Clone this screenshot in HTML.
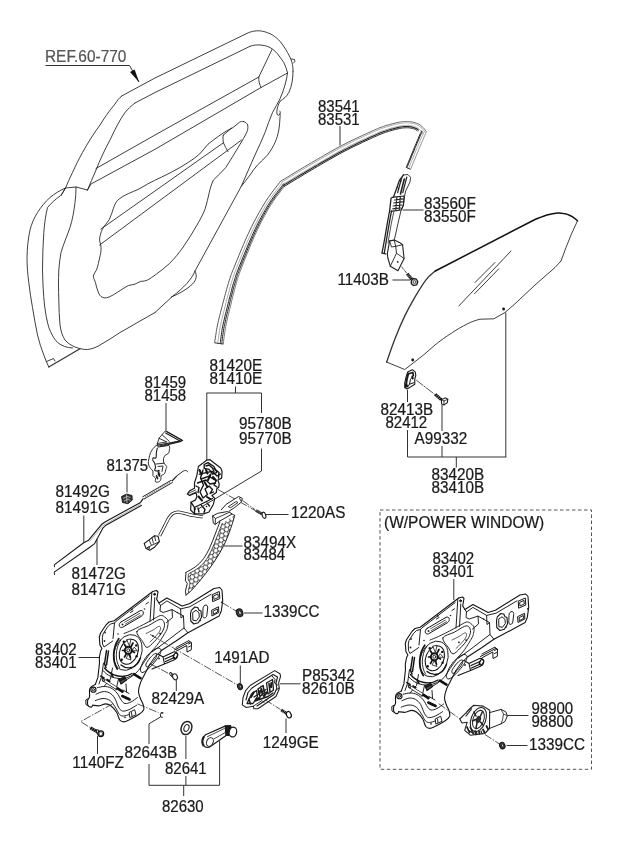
<!DOCTYPE html>
<html>
<head>
<meta charset="utf-8">
<title>Rear door window regulator and glass</title>
<style>
html,body{margin:0;padding:0;background:#fff;}
body{width:620px;height:848px;overflow:hidden;}
svg{display:block;filter:grayscale(1);}
text{font-family:"Liberation Sans",sans-serif;font-size:15.6px;fill:#1a1a1a;stroke:#1a1a1a;stroke-width:0.22px;}
.ln{fill:none;stroke:#2a2a2a;stroke-width:0.9;stroke-linecap:round;stroke-linejoin:round;}
.th{fill:none;stroke:#1c1c1c;stroke-width:0.85;stroke-linecap:round;stroke-linejoin:round;}
.ld{fill:none;stroke:#333;stroke-width:1;}
.dd{fill:none;stroke:#2a2a2a;stroke-width:0.8;stroke-dasharray:8 1.5 1.5 1.5;}
.bk{fill:none;stroke:#111;stroke-width:1.3;stroke-linecap:round;stroke-linejoin:round;}
</style>
</head>
<body>
<svg width="620" height="848" viewBox="0 0 620 848">
<rect x="0" y="0" width="620" height="848" fill="#ffffff"/>

<!-- ===== LABELS ===== -->
<g id="labels">
<text transform="translate(45.0 62.3) scale(0.9872 1)" style="fill:#555;stroke:#555">REF.60-770</text>
<text transform="translate(318.0 111.8) scale(0.9615 1)">83541</text>
<text transform="translate(318.0 124.8) scale(0.9615 1)">83531</text>
<text transform="translate(424.0 209.3) scale(0.9805 1)">83560F</text>
<text transform="translate(424.0 222.3) scale(0.9805 1)">83550F</text>
<text transform="translate(337.4 285.3) scale(0.9805 1)">11403B</text>
<text transform="translate(380.5 415.3) scale(0.9805 1)">82413B</text>
<text transform="translate(385.5 428.3) scale(0.9615 1)">82412</text>
<text transform="translate(414.5 444.3) scale(0.9805 1)">A99332</text>
<text transform="translate(431.5 479.8) scale(0.9805 1)">83420B</text>
<text transform="translate(431.5 493.3) scale(0.9805 1)">83410B</text>
<text transform="translate(384.0 527.8) scale(0.9959 1)">(W/POWER WINDOW)</text>
<text transform="translate(432.5 564.3) scale(0.9615 1)">83402</text>
<text transform="translate(432.5 576.8) scale(0.9615 1)">83401</text>
<text transform="translate(531.5 714.3) scale(0.9615 1)">98900</text>
<text transform="translate(531.5 727.3) scale(0.9615 1)">98800</text>
<text transform="translate(529.0 749.8) scale(0.9805 1)">1339CC</text>
<text transform="translate(209.5 370.8) scale(0.9805 1)">81420E</text>
<text transform="translate(209.5 383.8) scale(0.9805 1)">81410E</text>
<text transform="translate(144.5 388.3) scale(0.9615 1)">81459</text>
<text transform="translate(144.5 401.3) scale(0.9615 1)">81458</text>
<text transform="translate(239.0 429.3) scale(0.9805 1)">95780B</text>
<text transform="translate(239.0 444.3) scale(0.9805 1)">95770B</text>
<text transform="translate(106.5 470.8) scale(0.9615 1)">81375</text>
<text transform="translate(55.5 497.3) scale(0.9805 1)">81492G</text>
<text transform="translate(55.5 513.3) scale(0.9805 1)">81491G</text>
<text transform="translate(71.5 579.3) scale(0.9805 1)">81472G</text>
<text transform="translate(71.5 594.8) scale(0.9805 1)">81471G</text>
<text transform="translate(291.0 517.8) scale(0.9805 1)">1220AS</text>
<text transform="translate(243.5 547.8) scale(0.9805 1)">83494X</text>
<text transform="translate(243.5 559.8) scale(0.9615 1)">83484</text>
<text transform="translate(263.5 617.3) scale(0.9805 1)">1339CC</text>
<text transform="translate(35.0 654.8) scale(0.9615 1)">83402</text>
<text transform="translate(35.0 668.3) scale(0.9615 1)">83401</text>
<text transform="translate(214.3 662.8) scale(0.9805 1)">1491AD</text>
<text transform="translate(302.0 681.3) scale(0.9805 1)">P85342</text>
<text transform="translate(302.0 694.3) scale(0.9805 1)">82610B</text>
<text transform="translate(151.5 703.8) scale(0.9805 1)">82429A</text>
<text transform="translate(262.7 747.8) scale(0.9805 1)">1249GE</text>
<text transform="translate(72.3 768.3) scale(0.9805 1)">1140FZ</text>
<text transform="translate(124.5 758.3) scale(0.9805 1)">82643B</text>
<text transform="translate(165.0 774.3) scale(0.9615 1)">82641</text>
<text transform="translate(162.0 811.8) scale(0.9615 1)">82630</text>
</g>

<!-- ===== LEADER LINES ===== -->
<g id="leaders" class="ld">
<path d="M45.500 65.500 H129.500 L139 82" style="stroke:#333"/>
<path d="M340 126 V145.5"/>
<path d="M402.5 210 H423.5"/>
<path d="M392.5 280 H410"/>
<path d="M407.5 390 V402 M407.5 430 V457"/>
<path d="M442 405 V431 M442 446 V457"/>
<path d="M505.8 312.5 V457"/>
<path d="M407.5 457 H506.3"/>
<path d="M456.3 457 V467.5"/>
<path d="M453.8 579 V600"/>
<path d="M507.500 715.500 H528.500"/>
<path d="M506.500 745.500 H527.500"/>
<path d="M235.500 386.500 V393"/>
<path d="M206.500 393 H261.500"/>
<path d="M206.800 393 V460"/>
<path d="M261.500 393 V413 M261.500 448.500 V471"/>
<path d="M166 403 V431"/>
<path d="M127 473.5 V492.5"/>
<path d="M83.8 515.5 V542.5"/>
<path d="M97 539 V565"/>
<path d="M266 514.500 H288.500"/>
<path d="M224 546 H242.5"/>
<path d="M244 613 H262.500"/>
<path d="M78.5 657.5 H100"/>
<path d="M240.3 665.5 V683"/>
<path d="M280 683.8 H300.5"/>
<path d="M176.3 679.5 V691"/>
<path d="M286 718.5 V733"/>
<path d="M97.5 736 V754"/>
<path d="M160.5 717 L149 723.800 V744 M149 764 V785.300"/>
<path d="M185.900 736 V759 M185.900 776 V785.300"/>
<path d="M219.600 741 V785.300"/>
<path d="M149 785.300 H219.600"/>
<path d="M183.700 785.300 V796"/>
</g>
<path d="M139.300 82.600 L130 72.100 L134.600 69.500 Z" fill="#111"/>

<!-- dashed box -->
<rect x="380" y="510" width="211.5" height="259.3" fill="none" stroke="#555" stroke-width="1" stroke-dasharray="3.5 2.5"/>

<!-- ===== DRAWING ===== -->
<g id="drawing">


<!-- DOOR PANEL -->
<g id="door" class="th">
<path d="M122 95.8 L155 78 L248.8 32.5 C254 30.5 259 30.5 262.5 31.2 C266 32 270 33.5 272.5 35 C275.5 37 278 39 280 41.3 C283 45 285.5 49 287.5 52.5 C289.5 56 291 59 292 62.5 C292.7 65 293 68 293 71.3"/>
<path d="M291.3 59 L294.5 59.5 L295 61.5 L293.5 62.8"/>
<path d="M135 103 L155 92.5 L250 46.3 C253.5 45 257 44.8 260 45 C264 45.3 267 46 270 47.5 C273 49.2 275.5 51.5 277.5 53.8 C280 57 282 59.8 283.8 62.5 C285.3 65.5 286.5 69 287.5 72.5"/>
<path d="M122 95.8 C119 98 117 101 115 104 C109 111 104 118.5 100 125 C93 134.5 87.5 143.5 82.5 152.5 C78.5 159.5 75.5 166 72.5 172.5 C70 177.5 67.5 183 65.5 188 L61 195.5"/>
<path d="M135 103 C131 106 128 109 125 112.5 C119 121 114.5 130.5 110 140 C104.5 150 100 160 96 170 C93 177 90 184 87.5 190"/>
<path d="M96 168.5 L155 135 L258.8 77"/>
<path d="M272 49.5 L258.8 77 C258.5 80.5 259.5 84.5 261 87.5"/>
<path d="M87.5 190 L91 184 L155 149.3 L261 87.5 L287.5 73"/>
<path d="M61 195.5 L65.5 188 L76 187 L87.5 190"/>
<path d="M293 71.3 C293 75 292.7 79 292 82.5 C291.3 86 290.3 89.5 288.8 92.5 C287.8 94.5 286.5 96 285 97.5 C283.5 99 281.7 100 280 101.3 C278.5 104 277.5 107 277 110 C276.7 112 276.8 114 277.5 115 C278.3 115.8 279.5 115 280 113.8 C280.5 112.8 280.3 111.5 279.7 111 M280 113.8 C280.3 115 280.2 116.3 280 117.5 C279.8 121.5 279.5 126 278.8 130 C278 134.5 276.8 138.5 275 142.5 C273 147 270.5 151 267.5 155 C264.5 158.5 261 161.5 257.5 165 C254.8 168 252.3 171.5 250 175 C247 179 244 183 241.3 186.3"/>
<path d="M287.5 73 C287 77 286.2 81 285 85 C283.7 89.5 282 94.3 280 98.8 C277.7 103.5 275 108 272.5 112.5 C269.8 119 267.3 126 265 132.5 C262 140 258.5 147.5 255 155 C251 164 246 175.5 241.3 186.3 L195 271 C192 279 183.5 288 172.3 296.5 L155 312.5"/>
<path d="M195 271 C197.300 275.500 196.500 280 192.500 284 C187 289.500 179.500 293.500 171.300 297"/>
<path d="M155 312.5 C150 315.5 145 318.3 140 321 C133.5 325 126.5 328.8 120 332.5 C113.5 337 106.5 341.3 100 345 C96 347.5 92 349 87.5 349.5 C83 349.7 79 348.5 75 347 C71 345.3 67.5 343 65 340 C62 335.5 60.8 330.5 60 325 C59.2 317 59 308.5 58.8 300 C58.5 290 58.3 280 58.8 270 C59.2 264 60 258 61 252.500 C63.500 244 67 236 70 227.500 C72.500 219.500 74 211 75 202.500 C75.800 197.500 76 192 76 187"/>
<path d="M60 196 C55 199.500 51 203.500 47.500 207.500 C45.500 215.500 44.500 224 43.800 232.500 C43 245 42.500 257.500 42.500 270 C42.800 282 43.300 294 44.500 305 C45.500 313 46.800 320.500 48.800 327.500 C51 333.500 54 338.800 57.500 342.500 C62 346 67 347.800 72.500 348"/>
<path d="M65.500 188 C59.500 190.500 54.500 193.800 50 197.500 C45 202 41 207 37.500 212.500 C34 218 31.500 224 30 230 C28 239 27.200 248.500 27 257.500 C27 266 27.700 274.500 28.800 282.500 C29.800 291 31 299.500 32.500 307.500 C34 317 35.700 326 37.500 335 C39.200 342 41.300 348.800 43.800 355 C45.200 359 46.800 363 48.800 367"/>
<path d="M48.800 367 L80 348.800" style="stroke-width:1.2;stroke:#333"/>
<path d="M46.500 361.500 L53.500 358.500 L55 361"/>
<!-- armrest -->
<path d="M243.500 121.500 C245.500 122 247 123.300 247.700 125 C248.300 128 247.500 130.800 246.300 133.300 C244.500 136.800 242.700 140 240.800 143 C238 147.500 235.300 152 232.600 156.600 C230.300 160.500 228 164 225.700 167.600 C222 172 217.500 176 213.400 180 C211.500 184 210.300 188 209.300 192.300 C208 198 206.800 203.500 205.200 208.700 C203 214.500 200 220 197 225 C192.800 232.500 188 240 183.200 247 C179 253 174.500 258.500 169.500 263.500 C165.300 267.500 160.500 271 155.800 274.500 C153 276.500 150.500 278.500 147.600 280 C145.300 281 143 281.200 140.700 281.400 C138.500 282 137 283.300 135.200 284 C133 284.800 130.500 285 128.400 285.500 C124.500 287.500 121 290 117.400 292.300 C114 294.500 110.500 296.800 106.500 297.800 C103.500 298.300 101 297 99.600 295 C97.500 291 96.500 287 95.500 282.700 C94.800 280.500 93.500 278.500 93.300 275.900 C94 273.300 96 271.500 96.900 269 C98 265.500 98.800 261.800 99.600 258 C100.500 254.500 101.300 250.800 101 247 C100.800 244.300 99.500 241.800 99.600 238.900 C100 235.500 101 232.300 102.300 229.300 C104 225.800 107 223 109.200 219.700 C111 216.300 112 212.300 113.300 208.700 C114.300 205.800 115.500 202.800 117.400 200.500 C120.500 197.500 124.500 195.500 128.400 193.600 C131.500 192 135 191 138 189.500 C141.500 187.800 144.500 185.800 147.600 184 C152 181.500 156.800 179.500 161.300 177.200 C165 175.300 168.800 173.800 172.300 171.700 C178 168.800 183.500 165.500 188.700 162.100 C192.500 159.500 196.500 157 199.700 153.900 C202.800 150.800 205 147.300 207.900 144.300 C211.300 141.300 215.300 138.800 218.900 136 C221.500 134 224.300 132.300 227.100 130.600 C229 129.500 230.800 128.800 232.600 127.800 C235 126.300 237 124 239.400 122.300 C240.700 121.600 242 121.300 243.500 121.500 Z"/>
<path d="M101 229 L223.200 142.900"/>
<path d="M223.200 135.200 L232 127.800"/>
<path d="M99.600 245 L241.600 140"/>
<path d="M223.200 135.200 C222.800 138 223 140.500 223.500 143 C224.800 146 226.500 149 228 151.600"/>
</g>



<!-- GLASS -->
<g id="glass" class="th">
<path d="M435.3 271 C433.8 272.4 429.5 275.4 426.2 279.6 C422.9 283.8 419.1 290.1 415.5 296.1 C411.9 302.2 408.2 308.8 404.8 315.9 C401.4 323 397.9 331.3 394.9 339 C391.9 346.7 388 358.2 386.6 362.1" style="stroke-width:1.3;stroke:#333"/>
<path d="M435.3 271 L535 219.5 C537 218.8 543.2 216.1 547 215 C550.8 213.9 554.5 213.2 557.5 213 C560.5 212.8 562.9 213.4 565 213.8 C567.1 214.2 568.5 214.8 570 215.5 C571.5 216.2 572.8 216.9 574 217.8 C575.2 218.7 576.9 220.3 577.5 220.8" style="stroke-width:1.5;stroke:#111"/>
<path d="M577.5 220.8 L571 235 L566 247.5 L561 261 L555 267.5 L535 285 L515 303.8 L505 312.5 L493.8 318.8 L480 319.2 C475 320.5 471 322 467.5 323.8 C462 326.5 457 329.5 452.5 332.5 C446 336.5 440 341 435 345 C431 348.5 427 352 422.9 355.5 L404.8 369.5 L386.6 362.1"/>
<path d="M511 251 L458.8 306"/>
<path d="M495 262.5 L475 282.5"/>
<path d="M498.8 268.8 L474.5 293.8"/>
<circle cx="503.600" cy="309" r="1.400" fill="#111" stroke="none"/>
<circle cx="412.700" cy="360" r="1.400" fill="#111" stroke="none"/>
</g>


<!-- GUIDE 83560F -->
<g id="guide" class="th" style="stroke:#222">
<path d="M403.400 175 L408 174.500 L410.600 177.300 L410 181.900 L405.700 191 L404.100 198 L403.400 204.900 L401.100 210.200 L398 223.300 L395.700 234 L394.200 240.500" style="stroke-width:0.9"/>
<path d="M403.400 175 L399.500 180.300 L395.700 191 L393.400 197.200 L391.100 198 L390.300 204.900 L389.600 211 L387.300 223.300 L385 237 L382.700 249.300 L381.900 253.200 L385.700 253.900" style="stroke-width:1.3"/>
<path d="M391.500 211 L389.200 223.500 L386.600 239 L384.300 253" style="stroke-width:1.3"/>
<path d="M393.800 212 L391.200 224 L388.800 238 L388 243" style="stroke-width:0.8"/>
<path d="M401.800 177.500 L397.600 192.600 M406.800 177 L402.800 192.600" style="stroke-width:1.2"/>
<path d="M404.300 179 L400.500 194" style="stroke-width:1.6"/>
<path d="M399.500 180.300 L401.500 181 M397 187.500 L399 188.500" style="stroke-width:0.8"/>
<path d="M393.400 197.200 L404.300 196 L403.400 205.500 L401.100 210 L391 211.300" style="stroke-width:1.2"/>
<path d="M394.500 200 L403 198.800 M393.800 203 L402.700 201.800 M393.200 206 L402 205 M392.800 208.800 L400.500 208 M396.800 197.500 L395.800 210 M400.300 197 L399.300 209.500" style="stroke-width:1.2"/>
<path d="M389.600 240.900 L394.200 240.100 L399.500 242.400 L402.600 244.700 L403.400 252.400 L404.100 258.500 L398 270.800 L390.300 266.200 L388 258.500 L387.300 253.900 Z" style="stroke-width:1.1"/>
<path d="M394.200 240.100 L395.700 246.300 L402.600 244.700 M395.700 246.300 L396.500 253.200 L390.300 266.200 M396.500 253.200 L404.100 258.500 M389.600 240.900 L391.500 247 L395.700 246.300" style="stroke-width:0.9"/>
<circle cx="397.700" cy="261.900" r="0.900" fill="#222" stroke="none"/>
<path d="M401.800 267 L407 273.500" class="dd" style="stroke-dasharray:3 1.500"/>
</g>
<!-- bolt 11403B -->
<g id="bolt1">
<path d="M407.2 273.8 L411.8 279.2" stroke="#111" stroke-width="3.2" fill="none"/><path d="M406.9 275.9 L409.8 274.4 M408.0 277.2 L411.0 275.8 M409.2 278.6 L412.1 277.1" stroke="#fff" stroke-width="0.45" fill="none"/>
<path d="M411.300 280.800 L413 278.500 L416.200 279 L417.800 281.500 L416.800 284.800 L413.500 285.600 L411.300 283.800 Z" fill="#ddd" stroke="#1a1a1a" stroke-width="1.300"/>
<circle cx="414.500" cy="282" r="1.400" fill="#fff" stroke="#222" stroke-width="0.800"/>
</g>
<!-- clip 82413B + bolt -->
<g id="clip1" class="th">
<path d="M407.600 372.100 L412.400 369.700 L415.300 372.100 L415.800 375.500 L414.800 378.900 L414.800 384.200 L409.500 387.600 L407.100 389 L404.700 387.600 L404.700 383.200 L406.100 376.900 Z" style="stroke-width:1.100;stroke:#1a1a1a"/>
<path d="M408.300 373.500 L406.800 379.500 L405.800 386.800" style="stroke-width:2;stroke:#1a1a1a"/>
<path d="M409.500 373.600 L412.900 372.600 L413.400 375.500" style="stroke-width:1.600;stroke:#1a1a1a"/>
<path d="M413.400 375.500 L410.500 379.400 L409.500 384.200 L413.900 382.700 M409.500 384.200 L407.500 387" style="stroke-width:1;stroke:#1a1a1a"/>
<path d="M412.300 376.300 L412.800 378.500 M406.300 384.500 L407.300 386.200" style="stroke-width:1.800;stroke:#111"/>
<path d="M416.500 380.300 L434.500 394.200" class="dd"/>
</g>
<g id="bolt2">
<path d="M435.2 394.4 L441.3 399.6" stroke="#111" stroke-width="3.2" fill="none"/><path d="M435.4 396.7 L438.1 394.7 M436.9 398.0 L439.6 396.0 M438.4 399.3 L441.1 397.3" stroke="#fff" stroke-width="0.45" fill="none"/>
<path d="M441.500 399.700 L445.300 397.800 L447.800 399.200 L447.300 402.600 L443.900 405 L441.500 404 Z" fill="#fff" stroke="#222" stroke-width="1.100"/>
<path d="M441.500 399.700 L444 401 L447.800 399.200 M444 401 L443.900 405" class="th"/>
</g>


<!-- WEATHERSTRIP -->
<g id="strip" fill="none" stroke-linecap="butt" stroke-linejoin="round">
<path d="M214.6 342.8 L214.8 341.8 L214.9 340.5 L215.2 339 L215.4 337.3 L215.7 335.5 L216 333.5 L216.3 331.4 L216.7 329.3 L217.1 327.2 L217.5 325 L218 322.8 L218.5 320.4 L219.1 317.9 L219.8 315.3 L220.5 312.6 L221.1 310 L221.8 307.4 L222.5 304.8 L223.1 302.3 L223.8 300 L224.3 297.8 L224.9 295.6 L225.5 293.5 L226.1 291.4 L226.6 289.4 L227.2 287.4 L227.7 285.5 L228.3 283.6 L228.8 281.8 L229.4 280 L229.9 278.4 L230.4 277 L230.8 275.8 L231.2 274.6 L231.6 273.4 L232.1 272.2 L232.6 270.8 L233.3 269.2 L234.1 267.3 L235 265 L236.1 262.3 L237.4 259.2 L238.8 255.7 L240.3 252.1 L241.9 248.3 L243.5 244.4 L245.2 240.6 L246.8 236.8 L248.5 233.3 L250 230 L251.5 226.9 L253 223.9 L254.5 221 L256 218.2 L257.5 215.4 L259 212.7 L260.5 210.1 L262 207.5 L263.5 205 L265 202.5 L266.6 200 L268.3 197.5 L270.1 195 L271.9 192.5 L273.7 190.1 L275.5 187.9 L277 185.8 L278.5 184 L279.7 182.4 L280.6 181.2" stroke="#444" stroke-width="0.9"/>
<path d="M217.7 343.3 L217.9 342.2 L218 340.9 L218.2 339.4 L218.5 337.7 L218.7 335.9 L219 334 L219.3 331.9 L219.7 329.8 L220 327.7 L220.4 325.6 L220.9 323.4 L221.4 321.1 L222 318.6 L222.7 316 L223.3 313.4 L224 310.7 L224.6 308.1 L225.3 305.5 L225.9 303.1 L226.5 300.7 L227.1 298.5 L227.7 296.3 L228.2 294.2 L228.8 292.1 L229.3 290.1 L229.8 288.2 L230.4 286.2 L230.9 284.4 L231.4 282.6 L232 280.8 L232.5 279.2 L232.9 277.8 L233.3 276.6 L233.7 275.5 L234.1 274.4 L234.5 273.1 L235 271.8 L235.7 270.2 L236.4 268.3 L237.4 266 L238.5 263.2 L239.7 260.1 L241.1 256.7 L242.6 253 L244.2 249.2 L245.8 245.4 L247.4 241.6 L249.1 237.8 L250.7 234.3 L252.2 231 L253.6 228 L255.1 225 L256.6 222.1 L258 219.3 L259.5 216.5 L261 213.8 L262.4 211.2 L263.9 208.6 L265.4 206.1 L266.9 203.7 L268.5 201.3 L270.2 198.8 L271.9 196.3 L273.7 193.8 L275.5 191.5 L277.2 189.2 L278.8 187.2 L280.2 185.4 L281.4 183.8 L282.4 182.5" stroke="#888" stroke-width="0.7"/>
<path d="M220.2 343.7 L220.3 342.6 L220.5 341.3 L220.6 339.8 L220.9 338.1 L221.1 336.3 L221.4 334.3 L221.7 332.3 L222 330.3 L222.3 328.2 L222.7 326.1 L223.2 323.9 L223.7 321.6 L224.3 319.1 L224.9 316.5 L225.5 313.9 L226.2 311.3 L226.8 308.7 L227.5 306.1 L228.1 303.6 L228.7 301.3 L229.2 299.1 L229.8 296.9 L230.3 294.8 L230.9 292.7 L231.4 290.7 L231.9 288.7 L232.4 286.8 L232.9 285 L233.5 283.2 L234 281.5 L234.5 279.9 L234.9 278.5 L235.3 277.3 L235.6 276.2 L236 275.1 L236.4 273.9 L236.9 272.5 L237.5 270.9 L238.3 269 L239.2 266.7 L240.3 264 L241.5 260.9 L242.9 257.4 L244.4 253.8 L246 250 L247.6 246.1 L249.2 242.3 L250.8 238.6 L252.4 235.1 L253.8 231.8 L255.3 228.8 L256.7 225.8 L258.2 222.9 L259.6 220.1 L261.1 217.4 L262.5 214.7 L264 212.1 L265.4 209.5 L266.9 207.1 L268.4 204.6 L269.9 202.2 L271.6 199.8 L273.3 197.3 L275.1 194.9 L276.9 192.5 L278.6 190.3 L280.2 188.3 L281.6 186.4 L282.8 184.8 L283.8 183.6" stroke="#222" stroke-width="1.0"/>
<path d="M221.7 343.9 L221.9 342.8 L222 341.5 L222.2 340 L222.4 338.3 L222.6 336.5 L222.9 334.6 L223.2 332.6 L223.5 330.5 L223.8 328.5 L224.2 326.4 L224.7 324.3 L225.2 321.9 L225.7 319.5 L226.3 316.9 L226.9 314.3 L227.6 311.6 L228.2 309 L228.9 306.5 L229.5 304 L230 301.7 L230.6 299.4 L231.1 297.3 L231.7 295.1 L232.2 293.1 L232.7 291.1 L233.2 289.1 L233.7 287.2 L234.3 285.4 L234.8 283.6 L235.3 281.9 L235.8 280.3 L236.2 278.9 L236.5 277.7 L236.9 276.6 L237.2 275.5 L237.6 274.3 L238.1 273 L238.7 271.4 L239.5 269.5 L240.4 267.2 L241.5 264.5 L242.7 261.3 L244.1 257.9 L245.6 254.3 L247.1 250.5 L248.7 246.6 L250.3 242.8 L251.9 239.1 L253.5 235.6 L254.9 232.4 L256.4 229.3 L257.8 226.4 L259.2 223.5 L260.7 220.7 L262.1 217.9 L263.5 215.3 L265 212.7 L266.4 210.1 L267.9 207.6 L269.3 205.2 L270.8 202.8 L272.5 200.4 L274.2 198 L276 195.5 L277.8 193.2 L279.5 191 L281.1 188.9 L282.5 187.1 L283.7 185.5 L284.7 184.3" stroke="#222" stroke-width="1.0"/>
<path d="M223.3 344.1 L223.4 343.1 L223.6 341.7 L223.7 340.2 L223.9 338.5 L224.2 336.7 L224.4 334.8 L224.7 332.8 L225 330.8 L225.3 328.8 L225.7 326.7 L226.1 324.6 L226.6 322.3 L227.2 319.8 L227.7 317.3 L228.4 314.6 L229 312 L229.6 309.4 L230.3 306.8 L230.9 304.4 L231.4 302 L232 299.8 L232.5 297.6 L233 295.5 L233.6 293.5 L234.1 291.5 L234.6 289.5 L235.1 287.6 L235.6 285.8 L236.1 284 L236.6 282.3 L237 280.7 L237.4 279.3 L237.8 278.2 L238.1 277.1 L238.5 276 L238.9 274.8 L239.3 273.5 L239.9 271.9 L240.7 270 L241.6 267.7 L242.6 265 L243.9 261.8 L245.2 258.4 L246.7 254.7 L248.3 251 L249.8 247.1 L251.4 243.3 L253 239.6 L254.5 236.1 L256 232.9 L257.4 229.8 L258.9 226.9 L260.3 224 L261.7 221.2 L263.1 218.5 L264.5 215.8 L266 213.2 L267.4 210.7 L268.8 208.2 L270.3 205.8 L271.8 203.5 L273.4 201.1 L275.1 198.6 L276.9 196.2 L278.7 193.9 L280.4 191.7 L281.9 189.6 L283.4 187.8 L284.6 186.2 L285.6 184.9" stroke="#555" stroke-width="0.8"/>
<path d="M214.6 342.8 L223.3 344.1" stroke="#333" stroke-width="1"/>
<path d="M280.6 181.2 L282.4 180.1 L284.8 178.7 L287.6 177 L290.7 175.1 L294 173.1 L297.5 171 L301.1 168.8 L304.7 166.7 L308.1 164.7 L311.3 162.8 L314.4 161 L317.5 159.2 L320.6 157.4 L323.7 155.6 L326.8 153.8 L329.9 152 L333 150.3 L336 148.6 L339 147 L342 145.4 L345 143.9 L348 142.3 L351.1 140.8 L354.1 139.4 L357.1 138 L360 136.6 L362.8 135.3 L365.4 134.1 L367.8 133 L370 132 L371.9 131.1 L373.6 130.4 L375.1 129.7 L376.4 129.1 L377.6 128.6 L378.7 128.2 L379.8 127.7 L381 127.3 L382.2 126.9 L383.5 126.4 L384.9 125.9 L386.4 125.4 L388 125 L389.5 124.5 L391.1 124.1 L392.6 123.7 L394.1 123.3 L395.5 123 L396.9 122.7 L398.2 122.4 L399.4 122.2 L400.5 122 L401.6 121.8 L402.7 121.7 L403.7 121.6 L404.6 121.5 L405.6 121.5 L406.5 121.4 L407.4 121.5 L408.4 121.5 L409.4 121.6 L410.3 121.7 L411.3 121.8 L412.2 122 L413.2 122.2 L414.1 122.4 L415 122.7 L415.8 122.9 L416.6 123.2 L417.4 123.5 L418.1 123.8 L418.8 124.2 L419.4 124.5 L420 124.9 L420.5 125.3 L421.1 125.8 L421.6 126.2 L422.1 126.6 L422.5 127.1 L423 127.5 L423.5 128 L423.9 128.4 L424.3 129 L424.7 129.5 L425.1 130 L425.5 130.5 L425.8 131 L426.1 131.4 L426.3 131.7 L426.5 132" stroke="#555" stroke-width="0.9"/>
<path d="M281.3 182.4 L283.1 181.3 L285.5 179.9 L288.3 178.2 L291.4 176.3 L294.7 174.3 L298.3 172.2 L301.8 170 L305.4 167.9 L308.8 165.9 L312 164 L315.1 162.2 L318.2 160.4 L321.3 158.6 L324.4 156.8 L327.5 155 L330.6 153.2 L333.7 151.5 L336.7 149.8 L339.7 148.2 L342.6 146.6 L345.6 145.1 L348.6 143.6 L351.7 142.1 L354.7 140.6 L357.7 139.2 L360.6 137.9 L363.3 136.6 L365.9 135.4 L368.4 134.3 L370.6 133.3 L372.5 132.4 L374.2 131.6 L375.6 131 L376.9 130.4 L378.1 129.9 L379.2 129.4 L380.3 129 L381.4 128.6 L382.6 128.2 L383.9 127.7 L385.4 127.2 L386.8 126.8 L388.4 126.3 L389.9 125.9 L391.4 125.4 L392.9 125 L394.4 124.7 L395.8 124.3 L397.2 124 L398.5 123.8 L399.7 123.5 L400.8 123.3 L401.8 123.2 L402.8 123.1 L403.8 123 L404.7 122.9 L405.6 122.8 L406.5 122.8 L407.4 122.8 L408.3 122.9 L409.2 123 L410.2 123.1 L411.1 123.2 L412 123.4 L412.9 123.5 L413.8 123.8 L414.6 124 L415.4 124.2 L416.2 124.5 L416.9 124.8 L417.5 125.1 L418.1 125.4 L418.7 125.7 L419.2 126.1 L419.7 126.4 L420.2 126.8 L420.7 127.2 L421.1 127.7 L421.6 128.1 L422 128.5 L422.4 128.9 L422.8 129.3 L423.2 129.8 L423.6 130.3 L424 130.8 L424.3 131.3 L424.6 131.8 L424.9 132.2 L425.2 132.5 L425.4 132.8" stroke="#888" stroke-width="0.7"/>
<path d="M282.6 184.5 L284.4 183.4 L286.8 182 L289.6 180.3 L292.7 178.5 L296 176.4 L299.6 174.3 L303.1 172.2 L306.7 170.1 L310.1 168 L313.3 166.2 L316.4 164.4 L319.5 162.6 L322.6 160.8 L325.7 159 L328.8 157.2 L331.8 155.4 L334.9 153.7 L337.9 152 L340.9 150.4 L343.8 148.9 L346.7 147.3 L349.7 145.8 L352.8 144.4 L355.8 142.9 L358.7 141.5 L361.6 140.1 L364.4 138.9 L367 137.7 L369.4 136.6 L371.6 135.6 L373.6 134.7 L375.2 133.9 L376.7 133.3 L377.9 132.7 L379.1 132.2 L380.2 131.8 L381.2 131.4 L382.3 131 L383.5 130.5 L384.8 130.1 L386.1 129.6 L387.6 129.2 L389.1 128.7 L390.6 128.3 L392.1 127.9 L393.6 127.5 L395 127.1 L396.4 126.8 L397.7 126.5 L399 126.2 L400.1 126 L401.2 125.8 L402.2 125.7 L403.1 125.6 L404 125.5 L404.9 125.4 L405.7 125.4 L406.5 125.4 L407.3 125.4 L408.2 125.4 L409 125.5 L409.8 125.6 L410.7 125.7 L411.5 125.8 L412.3 126 L413.1 126.2 L413.9 126.4 L414.6 126.6 L415.3 126.9 L415.9 127.1 L416.4 127.3 L416.9 127.6 L417.3 127.8 L417.7 128.1 L418.2 128.4 L418.6 128.8 L419 129.1 L419.4 129.5 L419.9 129.9 L420.3 130.3 L420.6 130.6 L420.9 131 L421.3 131.4 L421.6 131.8 L421.9 132.3 L422.2 132.7 L422.6 133.2 L422.8 133.6 L423.1 134 L423.4 134.3" stroke="#777" stroke-width="0.6"/>
<path d="M283.2 185.5 L285 184.4 L287.4 183 L290.2 181.3 L293.3 179.4 L296.6 177.4 L300.1 175.3 L303.7 173.2 L307.2 171 L310.7 169 L313.8 167.1 L316.9 165.4 L320 163.5 L323.1 161.7 L326.2 159.9 L329.3 158.2 L332.4 156.4 L335.4 154.7 L338.5 153 L341.4 151.4 L344.3 149.9 L347.3 148.4 L350.2 146.9 L353.3 145.4 L356.3 143.9 L359.2 142.5 L362.1 141.2 L364.9 139.9 L367.5 138.7 L369.9 137.6 L372.1 136.6 L374 135.7 L375.7 134.9 L377.1 134.3 L378.4 133.7 L379.5 133.3 L380.6 132.8 L381.6 132.4 L382.7 132 L383.8 131.6 L385.1 131.2 L386.5 130.7 L387.9 130.3 L389.4 129.8 L390.9 129.4 L392.4 129 L393.9 128.6 L395.3 128.2 L396.7 127.9 L398 127.6 L399.2 127.3 L400.3 127.1 L401.4 127 L402.3 126.8 L403.2 126.7 L404.1 126.6 L404.9 126.5 L405.7 126.5 L406.5 126.5 L407.3 126.5 L408.1 126.5 L408.9 126.6 L409.7 126.7 L410.5 126.8 L411.3 126.9 L412.1 127.1 L412.8 127.3 L413.6 127.5 L414.3 127.7 L414.9 127.9 L415.5 128.2 L415.9 128.4 L416.3 128.6 L416.7 128.8 L417.1 129.1 L417.5 129.3 L417.9 129.7 L418.3 130 L418.7 130.4" stroke="#222" stroke-width="1.1"/>
<path d="M283.8 186.6 L285.7 185.5 L288 184.1 L290.8 182.4 L293.9 180.5 L297.3 178.5 L300.8 176.4 L304.4 174.2 L307.9 172.1 L311.3 170.1 L314.5 168.2 L317.6 166.4 L320.7 164.6 L323.8 162.8 L326.9 161 L329.9 159.3 L333 157.5 L336.1 155.8 L339.1 154.1 L342 152.5 L344.9 151 L347.8 149.5 L350.8 148 L353.8 146.5 L356.8 145.1 L359.8 143.7 L362.6 142.3 L365.4 141 L368 139.8 L370.4 138.7 L372.6 137.7 L374.5 136.8 L376.2 136.1 L377.6 135.5 L378.9 134.9 L380 134.4 L381.1 134 L382.1 133.6 L383.1 133.2 L384.3 132.8 L385.5 132.4 L386.9 131.9 L388.3 131.5 L389.8 131 L391.2 130.6 L392.7 130.2 L394.2 129.8 L395.6 129.4 L397 129.1 L398.2 128.8 L399.4 128.6 L400.5 128.4 L401.6 128.2 L402.5 128 L403.4 127.9 L404.2 127.9 L405 127.8 L405.8 127.8 L406.5 127.7 L407.3 127.8 L408 127.8 L408.8 127.8 L409.5 127.9 L410.3 128 L411 128.2 L411.8 128.3 L412.5 128.5 L413.2 128.7 L413.9 128.9 L414.5 129.1 L415 129.3 L415.4 129.5 L415.7 129.7 L416 129.9 L416.4 130.1 L416.7 130.3 L417.1 130.6 L417.4 130.9 L417.8 131.3" stroke="#222" stroke-width="1.0"/>
<path d="M426.5 132 L426.4 132.3 L426.2 132.6 L426 133 L425.7 133.5 L425.3 134.3 L424.8 135.4 L424.1 136.9 L423.4 138.7 L422.5 140.8 L421.5 143 L420.6 145.2 L419.7 147.3 L418.8 149.4 L418 151.5 L417.1 153.6 L416.2 155.8 L415.4 157.8 L414.6 159.7 L413.8 161.6 L413 163.5 L412.3 165.3 L411.6 166.9 L411 168.3 L410.6 169.3" stroke="#777" stroke-width="0.8"/>
<path d="M424 131.9 L423.7 132.5 L423.3 133.4 L422.8 134.5 L422.1 136 L421.3 137.8 L420.4 139.9 L419.5 142.1 L418.6 144.3 L417.7 146.4 L416.8 148.5 L415.9 150.7 L415 152.8 L414.2 154.9 L413.4 157 L412.6 158.9 L411.8 160.7 L411 162.6 L410.3 164.4 L409.6 166.1 L409 167.4 L408.6 168.5" stroke="#888" stroke-width="0.7"/>
<path d="M422.4 131.1 L422.1 131.7 L421.7 132.6 L421.1 133.8 L420.5 135.3 L419.7 137.1 L418.8 139.2 L417.8 141.4 L416.9 143.6 L416 145.8 L415.1 147.8 L414.3 150 L413.4 152.1 L412.5 154.2 L411.7 156.3 L410.9 158.2 L410.1 160 L409.3 161.9 L408.6 163.7 L407.9 165.4 L407.3 166.7 L406.9 167.8" stroke="#222" stroke-width="1.0"/>
<path d="M421.7 130.7 L421.4 131.4 L421 132.3 L420.4 133.4 L419.7 135 L418.9 136.8 L418.1 138.9 L417.1 141.1 L416.2 143.3 L415.3 145.4 L414.4 147.5 L413.5 149.7 L412.6 151.8 L411.8 153.9 L410.9 156 L410.2 157.9 L409.4 159.7 L408.6 161.6 L407.9 163.4 L407.2 165.1 L406.6 166.4 L406.2 167.5" stroke="#222" stroke-width="1.0"/>
<path d="M410.6 169.3 L406.2 167.5" stroke="#333" stroke-width="1"/>
</g>
<!-- 81459 bracket -->
<g id="b81459" class="th" style="stroke-width:0.9;stroke:#1c1c1c">
<path d="M165.600 431.200 L182.600 440.500 L157.700 446.300 L157.300 443.600 L159.100 438.300 Z"/>
<path d="M166.800 431.600 L182.600 440.500 M165.600 433 L180.500 441.200 M182.600 440.500 L158 445 M181 441.500 L160.500 446.500" style="stroke-width:1.1"/>
<path d="M159.100 438.300 L166.600 441.900 M162.200 434.800 L169.300 441.400 M157.300 443.600 L166.600 441.900"/>
<path d="M157.3 445 C156.8 445.4 155.3 445.9 154.2 447.2 C153.1 448.4 151.5 450.6 150.6 452.5 C149.7 454.4 149.3 456.8 148.9 458.7 C148.5 460.6 148.1 462.4 148.4 464 C148.7 465.6 149.8 467.3 150.6 468.5 C151.3 469.7 152.5 469.9 152.9 471.1 C153.3 472.3 152.5 474.4 152.9 475.6 C153.3 476.8 155.1 477.2 155.5 478.2 C155.9 479.2 154.9 481.2 155.5 481.8 C156.1 482.4 158.2 482.2 159.1 481.8 C160 481.4 160.5 480.1 160.9 479.1 C161.3 478.1 160.7 476.5 161.3 475.6 C161.9 474.7 163.6 475 164.4 473.8 C165.2 472.6 165.8 469.8 166.2 468.5 C166.6 467.2 167 467.2 166.6 466.3 C166.2 465.4 164.5 464.5 164 463.2 C163.5 461.9 163.3 460 163.5 458.7 C163.7 457.4 164.5 456.1 165.3 455.2 C166.1 454.3 167.7 454.5 168.4 453.4 C169.1 452.3 169.5 449.8 169.7 448.5 C169.8 447.2 169.4 446.3 169.3 445.9"/>
<path d="M157.3 448.1 C157.2 448.8 156.6 450.9 156.4 452.5 C156.2 454.1 156.5 456.9 156 457.8 C155.5 458.7 153.8 457.4 153.3 457.8 C152.8 458.2 152.7 459.6 152.9 460.5 C153.1 461.4 154.2 462 154.6 463.2 C155 464.4 155.5 466.4 155.5 467.6 C155.5 468.8 154.3 469.7 154.6 470.3 C154.9 470.9 156.6 471.1 157.3 471.1 C158.1 471.1 158.9 469.7 159.1 470.3 C159.2 470.9 158 474.1 158.2 474.7 C158.3 475.3 159.7 473.9 160 473.8" style="stroke-width:1.1"/>
<path d="M156 464 L164 463.200 M158 466.500 L163 466 L162 471.500 M158.500 447 L168.500 445.500"/>
<path d="M158.500 472.500 L159.500 476 M156.500 476 L157.500 478.500" style="stroke-width:1.8"/>
</g>
<!-- clip 81375 -->
<g id="c81375">
<path d="M121.500 496.500 L126.500 494 L132 495.500 L132.300 500 L128 503.800 L122.500 502.500 Z" fill="#333" stroke="#111" stroke-width="0.8"/>
<path d="M123 498.500 L127 496.500 L130.500 497.500 M124 501 L128 499 L130.500 500.500 M126.500 494.500 L127 503" stroke="#ddd" stroke-width="0.7" fill="none"/>
</g>
<!-- rods -->
<g id="rods">
<path d="M54.2 564.9 L83.7 542.8 L88.6 540.2 L101.9 524.2 L104.5 522.3 L140.6 502.4 L144.2 497.2 L172 481 L176.9 475.8" fill="none" stroke="#1a1a1a" stroke-width="1.15" stroke-linejoin="round"/>
<path d="M54.2 572.1 L89.8 547.2 L94.6 543.6 L103.1 527.8 L105.5 525.6 L141.8 505.2" fill="none" stroke="#1a1a1a" stroke-width="1.1" stroke-linejoin="round"/>
<path d="M89.5 541.5 L102.8 525.6 L141 504" fill="none" stroke="#666" stroke-width="0.5"/>
<path d="M143.2 498 L172 481.2" fill="none" stroke="#222" stroke-width="3.4" stroke-linecap="butt" stroke-linejoin="round"/><path d="M143.2 498 L172 481.2" fill="none" stroke="#fff" stroke-width="1.6" stroke-linecap="butt" stroke-linejoin="round"/>
<path d="M145 497 L170.500 482" fill="none" stroke="#333" stroke-width="0.700" stroke-dasharray="1.500 1"/>
<path d="M176.900 475.800 L181 472.800 C182.500 471.500 184 470.500 185.500 470.500 C186.800 470.500 187.500 471.300 187.800 472.200" fill="none" stroke="#222" stroke-width="1"/>
<path d="M54.200 564.900 L54.600 567.200 M54.200 572.100 L54.600 575" stroke="#222" stroke-width="1" fill="none"/>
</g>
<!-- connector wire -->
<g id="wire">
<path d="M202.9 516.9 C201.2 516.6 195.5 515.9 192.6 515.4 C189.7 514.9 187.8 514.1 185.4 513.6 C183 513.1 180.2 512.1 178.1 512.1 C176 512.1 174.3 512.6 172.7 513.6 C171.1 514.6 170.1 516.1 168.7 518.2 C167.3 520.3 166 523.4 164.5 526.3 C163 529.2 160.4 534.1 159.6 535.7" fill="none" stroke="#222" stroke-width="3.3" stroke-linecap="butt" stroke-linejoin="round"/><path d="M202.9 516.9 C201.2 516.6 195.5 515.9 192.6 515.4 C189.7 514.9 187.8 514.1 185.4 513.6 C183 513.1 180.2 512.1 178.1 512.1 C176 512.1 174.3 512.6 172.7 513.6 C171.1 514.6 170.1 516.1 168.7 518.2 C167.3 520.3 166 523.4 164.5 526.3 C163 529.2 160.4 534.1 159.6 535.7" fill="none" stroke="#fff" stroke-width="1.7" stroke-linecap="butt" stroke-linejoin="round"/>
<path d="M154.500 535.700 L158.100 536.300 L159.400 541.700 L154.500 547.200 L149.700 550.200 L146 548.400 L144.200 543.500 L149.100 539.900 Z" fill="#fff" stroke="#1c1c1c" stroke-width="1.100" stroke-linejoin="round"/>
<path d="M149.100 539.900 L151.500 545.400 L159.400 541.700 M146 548.400 L151.500 545.400 M154.500 535.700 L155.700 541.100 M152 537.800 L153.500 543.500" stroke="#1c1c1c" stroke-width="0.900" fill="none"/>
<circle cx="148.700" cy="548" r="1" fill="none" stroke="#222" stroke-width="0.800"/>
</g>
<!-- latch -->
<g id="latch">
<path d="M206.6 460.2 L210 459.7 L220.7 467.9 L222.1 471.8 L221.6 478.1 L217.8 480 L219.2 483.9 L218.7 487.3 L216.8 488.7 L216.3 492.6 L211.9 495.5 L214.8 498.4 L213.4 504.2 L209 512 L203.7 513.9 L194.5 513.9 L190.6 510 L191.1 502.3 L195.5 499.9 L196.9 496.5 L196 492.6 L189.7 495.5 L187.3 494 L189.7 490.7 L194.5 488.2 L194.5 482.9 L196.9 475.2 L198.4 466.5 L202.3 463.6 Z" fill="#fff" stroke="#1a1a1a" stroke-width="1.2" stroke-linejoin="round"/>
<g fill="none" stroke="#111" stroke-width="1.350" stroke-linejoin="round" stroke-linecap="round">
<path d="M204.200 464.500 L208 462.600 L213.900 466.500 L216.800 472.300 L212.900 474.200 L209 469.400 L204.200 468.400 Z"/>
<path d="M206 466 L209 465 L212.500 468 L214 471.500"/>
<path d="M199.400 474.200 L212 471.300 L217 476 L220.500 474 M201.300 479 L209 476.100 L214 479.500 M197.500 483 L206 480 L210 484 L215.500 483"/>
<path d="M203 470 L200.500 478 L203.500 485 L200 492 L203 498 L207.500 494.500 L205 489 L209 486 L212.500 489.500 L210 493.500 L213.500 492"/>
<path d="M196 486 L199 487.500 L198 492.600 M214 468.500 L219 472.500 L218.500 478 M216 481 L214 485 L217 487"/>
<path d="M188.500 493.300 L195.500 490 M190 494.800 L196.500 491.800" stroke-width="0.800"/>
<path d="M191.100 502.300 L194.500 507.500 L194.500 513.900 M194.500 507.500 L212.500 498.500 M198 508 L199 512 M201.500 505.500 L205 509.500 L204 512.500 M207 503 L209.500 506"/>
<path d="M206 470 L207.500 473.500 M210.500 474.500 L208 480 M204.500 482 L207.500 487 M199.500 470 L201.500 474.500 M213 477 L216 480.500 M198.500 496.500 L202 500.500 M207 497 L210.500 499" stroke-width="2"/>
</g>
<circle cx="195" cy="509" r="0.900" fill="#111"/><circle cx="206.500" cy="506.500" r="0.800" fill="#111"/>
</g>
<path d="M261.500 471 L199 508.500" class="ld"/>
<path d="M218 489.500 L256 511" class="dd"/>
<g id="s1220"><path d="M256 510.500 L262.300 514.100" stroke="#111" stroke-width="2.800" fill="none"/><path d="M256.500 509.500 L257.500 512.500 M258.500 510.500 L259.500 513.500 M260.500 511.500 L261.500 514.500" stroke="#fff" stroke-width="0.400" fill="none"/><ellipse cx="264" cy="515.300" rx="1.700" ry="3.200" transform="rotate(-18 264 515.300)" fill="#fff" stroke="#1a1a1a" stroke-width="1.100"/></g>
<!-- panel 83494X -->
<g id="panel">
<defs><pattern id="hex" width="6.6" height="3.8" patternUnits="userSpaceOnUse" patternTransform="rotate(-52) scale(1.18)"><path d="M0 1.9 L1.1 0 L3.3 0 L4.4 1.9 L3.3 3.8 L1.1 3.8 Z M4.4 1.9 L6.6 1.9" fill="none" stroke="#222" stroke-width="0.75"/></pattern></defs>
<path d="M222.2 523.5 C221.4 525.5 219.1 531.4 217.5 535.5 C215.9 539.6 214.4 544 212.5 548 C210.6 552 208.6 556.2 206.3 559.5 C204.1 562.8 201.7 565.2 199 567.5 C196.3 569.8 191.8 571.8 190 573 C188.2 574.2 188.8 573.3 188.5 574.5 C188.2 575.7 188.1 578.6 188.3 580 C188.6 581.4 190 581.3 190 583 C190 584.7 188.8 588.8 188.5 590 L186 595.1 L187 594.3 L188.4 593.2 L190.1 591.7 L191.9 589.9 L193.9 587.7 L196.2 585.1 L198.6 582.3 L200.9 579.5 L203.2 576.7 L205.5 573.7 L207.8 570.8 L210 567.8 L212.1 564.8 L214.1 561.9 L216 558.9 L217.8 556.1 L219.4 553.4 L220.9 550.9 L222.3 548.3 L223.6 545.8 L224.8 543.3 L226 540.8 L227.1 538.2 L228.2 535.4 L229.4 532.2 L230.6 528.7 L231.8 525.3 L232.7 522.4 L233.4 520 L234 518 L234.4 516.4 L234.7 515.3 Z" fill="url(#hex)" stroke="none"/>
<path d="M234.7 515.3 C234.4 516.5 233.8 519 232.7 522.4 C231.6 525.8 229.7 531.5 228.2 535.4 C226.7 539.3 225.3 542.3 223.6 545.8 C221.9 549.2 220.1 552.4 217.8 556.1 C215.5 559.8 212.8 563.9 210 567.8 C207.2 571.7 203.9 575.8 200.9 579.5 C197.9 583.2 194.4 587.3 191.9 589.9 C189.4 592.5 187 594.2 186 595.1" class="th" style="stroke-width:1;stroke:#222"/>
<path d="M219.7 522.4 C218.9 524.4 216.8 530 215.2 534.1 C213.6 538.2 211.9 543 210 547.1 C208.1 551.2 205.9 555.5 203.5 558.7 C201.1 561.9 198.7 564.2 195.8 566.5 C192.9 568.8 187.6 571.4 186 572.4" class="th" style="stroke-width:1;stroke:#222"/>
<path d="M186 572.4 L185.4 580.8 L187.3 583.4 L185.4 591.2 L186 595.1" class="th" style="stroke-width:1;stroke:#222"/>
<path d="M222.2 523.5 C221.4 525.5 219.1 531.4 217.5 535.5 C215.9 539.6 214.4 544 212.5 548 C210.6 552 208.6 556.2 206.3 559.5 C204.1 562.8 201.7 565.2 199 567.5 C196.3 569.8 191.8 571.8 190 573 C188.2 574.2 188.8 573.3 188.5 574.5 C188.2 575.7 188.1 578.6 188.3 580 C188.6 581.4 190 581.3 190 583 C190 584.7 188.8 588.8 188.5 590" class="th" style="stroke-width:0.8;stroke:#222"/>
<path d="M212.600 515.900 L217.800 513.300 L228.200 511.400 L232.100 514 L219.700 521.100 L215.200 524.400 L213.300 523.100 Z" fill="#fff" stroke="#222" stroke-width="1" stroke-linejoin="round"/>
<path d="M212.600 515.900 L215.500 518.500 L215.200 524.400 M215.500 518.500 L229 512.500 M232.100 514 L234.700 515.300 M219.700 521.100 L219.700 522.400" class="th" style="stroke-width:0.9;stroke:#222"/>
<path d="M221 510.100 L226.200 504.300 L238.600 496.500 L242.400 498.400 L241.100 502.300 L234.700 507.500 L228.800 511.400" fill="#fff" stroke="#222" stroke-width="1" stroke-linejoin="round"/>
<path d="M228.500 506.500 L236 501.500 L238 502.500 L231 507.500 Z M239.500 498 L240.500 500.500" class="th" style="stroke-width:0.9;stroke:#222"/>
</g>
<path d="M242.400 500.400 L255 509.500" class="dd"/>
<!-- regulator (manual) -->
<g class="reg" fill="none" stroke="#141414" stroke-width="0.95" stroke-linejoin="round" stroke-linecap="round">
<path d="M152.7 591.5 L114.2 620.7 L109 622 L105.8 625.2 L100.6 633 L99.3 637 L99.9 645 L101.9 648.6 L100.6 651 L99.3 657.6 L99.5 663 L97.9 677.4 L95.3 684.5" stroke-width="1.1"/>
<path d="M149.2 596 L116 621.3 L114.5 623 L113 638.500"/>
<path d="M114.5 623 L110.500 624 L107.500 627 L103 634 L102.300 637.500 L102.500 644 L104 647 L112.800 641"/>
<circle cx="105" cy="632.500" r="0.900" fill="#222" stroke="none"/><circle cx="104.500" cy="641" r="0.900" fill="#222" stroke="none"/>
<path d="M152.7 591.5 L156.500 590.500 L158 592 L156.700 599.400 L158.900 603 L166.900 598 L182.100 606 L189.400 603.800 L214 588.500 L219.800 587.500 L222 590 L222.700 600.900 L221.300 611 L219.100 616.100 L187.900 632.800 L176 641 L161.800 650.200" stroke-width="1.1"/>
<path d="M151.800 593 L150 621.500 M154.800 597.500 L153.500 620"/>
<circle cx="154.600" cy="594.300" r="1" /><circle cx="154.600" cy="594.300" r="0.400" fill="#222"/>
<path d="M158.900 603 L160.500 605.500 L166.900 600.900 L180.600 608.900 L190 606.700 L211 594.300"/>
<path d="M160.500 605.500 L160 611 L163.200 612.500 L172 609.600 L183.500 616 L184 628 L187.900 632.800 M184 628 L176 634 L165 642.500 L152 652"/>
<path d="M180.600 608.900 L181 618 L183.500 616 M172 609.600 L172.500 617.500 L166.500 622.500"/>
<path d="M191.300 610.300 L194.800 607 L197.800 607.500 L199 610.200 L201 611 L201.500 617.500 L198.300 622.800 L193.800 624 L190.800 621 L190.500 614 Z" stroke-width="1.1"/>
<path d="M193 612.300 L196 610.300 L199 612.800 L199.300 617 L196.500 620.800 L193.300 620.300 Z"/>
<path d="M203 608.500 C203 606.500 204.500 605 206 605 C207.300 605.200 207.800 606.500 207.700 608 L206.800 615.500 C206.500 617.300 205 618.300 203.800 617.800 C202.800 617.300 202.700 616 202.800 614.500 Z"/>
<path d="M212.600 594.500 L219.300 591.500 L219.800 598.500 L213 601.500 Z" stroke-width="1"/><path d="M214 595.700 L218 593.900 L218.300 597.500 L214.300 599.300 Z"/>
<path d="M212 610 L218.500 606.800 L218.800 612.500 L212.300 615.800 Z" stroke-width="1"/><path d="M213.500 611 L217.300 609 L217.500 612 L213.700 614 Z"/>
<circle cx="221.800" cy="602.300" r="0.900" fill="#222" stroke="none"/>
<circle cx="177.500" cy="612.500" r="0.700" fill="#222" stroke="none"/><circle cx="200.500" cy="620.500" r="0.700" fill="#222" stroke="none"/>
<path d="M121 622 L140 610.800 C141.800 610 143.300 611 143.300 612.800 C143.300 614.500 142.500 615.500 141.300 616.300 L122.500 627.300 C120.800 628 119.300 627 119.200 625.300 C119.200 623.800 120 622.700 121 622 Z" stroke-width="1"/>
<path d="M124.500 622.300 L139.500 613.500 M125.500 624 L140.500 615.200" stroke-width="0.700"/>
<circle cx="122.500" cy="624.500" r="1" fill="#222" stroke="none"/><circle cx="131.800" cy="609.500" r="0.900" fill="#222" stroke="none"/><circle cx="144.500" cy="609" r="0.800" fill="#222" stroke="none"/><circle cx="118" cy="634" r="0.800" fill="#222" stroke="none"/>
<path d="M146 604 L148.500 602.300 M130.500 612.500 L133 611"/>
<path d="M124 633.5 C125.4 632.9 128.7 631.8 132.5 630 C136.3 628.2 142.6 625 147 622.7 C151.4 620.4 156.2 617.4 158.7 616.2 C161.2 615 161 615.4 162 615.5 C163 615.6 163.6 616.2 164.5 616.9 C165.4 617.6 166.9 618.5 167.5 619.5 C168.1 620.5 168.1 621.5 168.1 622.7 C168.1 624 167.9 625.5 167.5 627 C167.1 628.5 167.4 628.7 165.9 631.4 C164.4 634.1 161.1 639.6 158.7 643 C156.3 646.4 153.8 648.6 151.4 651.7 C149 654.9 146.4 658.8 144.2 661.9 C142 665 140.6 668.1 138.4 670.6 C136.2 673.1 133.4 675.3 131 677 C128.6 678.7 125.2 680.3 124 681" stroke-width="0.9"/>
<path d="M136.9 631.4 C137.9 628.7 144.9 627.5 148.5 625.6 C152.1 623.7 156.3 620.6 158.7 619.8 C161.1 618.9 162 619.5 163 620.5 C164 621.5 164.7 623.5 164.5 625.6 C164.3 627.7 163.3 630.2 161.6 632.9 C159.9 635.6 156.7 639.2 154.3 641.6 C151.9 644 148.9 647.4 147 647.4 C145.1 647.4 144.4 644.3 142.7 641.6 C141 638.9 135.9 634.1 136.9 631.4 Z"/>
<path d="M146 633.5 C147.2 632.9 150.9 631.2 153 630 C155.1 628.8 157.2 626.9 158.5 626.5 C159.8 626.1 160.3 626.7 160.5 627.5 C160.7 628.3 160.4 629.9 159.5 631.5 C158.6 633.1 156.6 635.2 155 637 C153.4 638.8 150.8 641.2 150 642" stroke-width="0.7"/>
<circle cx="152.900" cy="635.800" r="0.900" fill="#111" stroke="none"/><circle cx="160.100" cy="633.600" r="0.900" fill="#111" stroke="none"/>
<path d="M147 656 C147.8 655.2 150.2 652.3 152 651 C153.8 649.7 156.5 648.2 158 648 C159.5 647.8 160.8 648.7 161 650 C161.2 651.3 160.3 653.7 159 656 C157.7 658.3 155 661.7 153 664 C151 666.3 148.8 668.6 147 670 C145.2 671.4 143.1 672.7 142 672.5 C140.9 672.3 140.3 670.8 140.5 669 C140.7 667.2 141.9 664.2 143 662 C144.1 659.8 146.3 657 147 656"/>
<path d="M149.5 658.5 C150.2 657.8 152.3 655.3 153.5 654.5 C154.7 653.7 156.1 653 156.5 653.5 C156.9 654 156.8 655.8 156 657.5 C155.2 659.2 153 661.9 151.5 663.5 C150 665.1 147.9 666.9 147 667 C146.1 667.1 145.6 665.4 146 664 C146.4 662.6 148.9 659.4 149.5 658.5"/>
<g transform="rotate(22 128 652.500)">
<ellipse cx="128" cy="652.500" rx="13.500" ry="18.500" stroke-width="0.85"/>
<ellipse cx="128.500" cy="651.500" rx="9" ry="13" stroke-width="1.100"/>
</g>
<path d="M118.800 638.700 C115.500 643 114 648.500 113.700 654.500 C113.500 660 114.800 665 117.300 669.100" stroke-width="1.700"/>
<path d="M120.800 640 C118 644 116.500 649 116.300 654.500 C116.200 659.500 117.300 664 119.500 667.500" stroke-width="0.900"/>
<circle cx="128.300" cy="650.300" r="3.500" stroke-width="1.900" fill="#fff"/><circle cx="128.300" cy="650.300" r="1.500" stroke-width="0.900"/>
<circle cx="123.800" cy="641.800" r="1.200" fill="#111" stroke="none"/><circle cx="136.200" cy="645.400" r="1.200" fill="#111" stroke="none"/><circle cx="121.700" cy="659.700" r="1.200" fill="#111" stroke="none"/><circle cx="136.600" cy="656.300" r="1.200" fill="#111" stroke="none"/>
<path d="M124.500 644.500 L126.300 647.300 M133 643 L130.800 647 M134.500 652.500 L132 651.300 M130.500 658 L129.500 654 M124.500 657 L126.500 653.300 M122.500 650.500 L124.700 650.300" stroke-width="1.700"/>
<path d="M127 639.500 L131 639 L129.500 645.500 Z M134.500 647.500 L137.500 651 L132.500 650.500 Z M126.500 658.500 L131 660 L128.500 654.500 Z" stroke-width="0.800" fill="#fff"/>
<path d="M121 665 C124 667.500 128 668.500 132 667.500 C136 666 139 662.500 140.500 658" stroke-width="1.300"/>
<path d="M106.500 650.500 L104.500 664 L106 667.500 M108.500 651 L106.500 665" stroke-width="1.500"/>
<path d="M104.500 668 C108 672.500 113 675 118 676 C123 677 128 676 132 673.500" stroke-width="1.400"/>
<path d="M103 670.500 C107 675.500 113 678 119 678.500 C124 679 129 677.500 133.500 674.500" />
<path d="M95.3 684.5 C95.1 684.6 94.8 684.8 94 685.2 C93.2 685.6 91.5 686.3 90.8 687.1 C90 687.9 89.7 688.4 89.5 690 C89.3 691.6 89.8 695 89.5 696.8 C89.2 698.6 87.8 699.1 87.6 700.6 C87.4 702.1 87.5 704.7 88.2 705.8 C88.9 706.9 90.8 707.2 91.5 707.1 C92.2 707 92.5 705.5 92.7 705.2" stroke-width="1.1"/>
<circle cx="93.400" cy="689.700" r="2.600" stroke-width="1.100"/><circle cx="93.400" cy="689.700" r="1.100"/>
<path d="M87.600 699 L85.800 700 L86 704.500 L88.200 705.800" stroke-width="1"/>
<path d="M92.7 705.2 C93.8 705.3 97.1 706 99.2 705.8 C101.3 705.6 103.7 703.9 105.6 703.9 C107.5 703.9 109 704.4 110.8 705.8 C112.6 707.2 115.1 709.9 116.6 712.3 C118.1 714.7 118.6 718.4 119.8 720 C121 721.6 122.2 721.9 123.7 721.9 C125.2 721.9 126.3 721.3 128.9 720 C131.5 718.7 136.7 715.9 139.2 714.2 C141.7 712.5 143 711.3 143.7 709.7 C144.3 708.1 143.6 706.3 143.1 704.5 C142.6 702.7 141.3 700.9 140.5 698.7 C139.7 696.6 138.5 694.3 138.5 691.6 C138.5 688.9 139.5 685.4 140.5 682.6 C141.5 679.8 142.8 677.9 144.4 674.8 C146 671.7 149.1 665.8 150 664" stroke-width="1.1"/>
<path d="M96 694.2 C97.2 693.8 100.8 691.8 103.1 691.6 C105.3 691.4 107.6 691.8 109.5 692.9 C111.4 694 113.2 695.7 114.7 698.1 C116.2 700.5 117.2 705 118.5 707.1 C119.8 709.2 120.7 710.6 122.4 711 C124.1 711.4 126.5 710.7 128.9 709.7 C131.3 708.7 135.3 706 136.6 705.2"/>
<path d="M95.3 700.6 C96.6 700.2 100.5 698.5 103 698.5 C105.5 698.5 108 699 110.2 700.6 C112.4 702.2 114.5 706.1 116 708.4 C117.5 710.7 118.2 713.2 119.5 714.5 C120.8 715.8 121.9 716 123.5 716 C125.1 716 128.1 714.8 129 714.5"/>
<path d="M97.3 687.7 C98.4 687.5 101.7 686.5 104 686.5 C106.3 686.5 108.8 686.9 111 688 C113.2 689.1 115.2 690.9 117 693 C118.8 695.1 120.2 698.8 121.5 700.5 C122.8 702.2 123.4 703.2 125 703.5 C126.6 703.8 128.9 703 131 702 C133.1 701 136.4 698.2 137.5 697.5"/>
<path d="M129.500 712.300 L134.700 709.700 L136 714.800 L130.200 717.400 Z M131.500 712.500 L132 716"/><circle cx="125" cy="717.400" r="0.800" fill="#222" stroke="none"/>
<path d="M103.500 663 L101.500 677 L99 684 M112.500 668 L110.500 679 L104 686.500 M118.500 679 L116 690"/>
<path d="M103.500 680 L116 687.800" stroke-width="3.200" stroke="#222"/><path d="M103.500 680 L116 687.800" stroke-width="1.600" stroke="#fff"/>
<ellipse cx="103.300" cy="679.900" rx="0.900" ry="1.600" transform="rotate(-30 103.300 679.900)" fill="#fff"/>
<path d="M134 674.200 L140.500 678.100" stroke-width="2.600" stroke="#111" stroke-dasharray="0.900 0.500"/>
<path d="M122.400 696.100 L129.500 699.400" stroke-width="2.800" stroke="#111" stroke-dasharray="0.900 0.500"/>
<path d="M117.500 688.400 L122.400 691.600" stroke-width="2.800" stroke="#111" stroke-dasharray="0.900 0.500"/>
<path d="M119 679.500 L124.500 676.500 L126.500 680 L121 684 Z" stroke-width="1.200" fill="#555"/><path d="M120.500 680.500 L124.500 678.500" stroke-width="1.500"/>
<path d="M100.800 676.100 L104 678 M107 679.500 L109.800 681.200 M111 673 L113 677" stroke-width="1.600"/>
<path d="M126 684 L126.500 692 M123 690 L129 693.500"/>
<path d="M174.500 650 L190 641.800 L191.500 642.500 L191.300 649.800 L187 652 L186.800 645.500 L176.500 651" stroke-width="1"/>
<path d="M176 647.500 L189 640.500 L190 641.800 M188.500 644 L190.500 643 M188.500 647 L190.500 646"/>
<path d="M163 657 L173.500 652 C176 651.500 177.800 653 177.700 655.500 C177.500 657.500 176.500 658.800 175 659.500 L164.500 664 L152 669 M163 657 L158 654 M164.500 664 L163 657" stroke-width="1.100"/>
<ellipse cx="175.500" cy="655.800" rx="1.800" ry="3" transform="rotate(25 175.500 655.800)" stroke-width="1.300"/>
<path d="M165 659 L174 655 M165.500 661.500 L174.500 657.500" stroke-width="1.300"/>
<circle cx="159" cy="658.500" r="0.900" fill="#222" stroke="none"/>
<path d="M161.800 650.200 L155 656.500 L150 664"/>
</g>
<!-- regulator (power) -->
<g transform="translate(306 6.500)">
<g class="reg" fill="none" stroke="#141414" stroke-width="0.95" stroke-linejoin="round" stroke-linecap="round">
<path d="M152.7 591.5 L114.2 620.7 L109 622 L105.8 625.2 L100.6 633 L99.3 637 L99.9 645 L101.9 648.6 L100.6 651 L99.3 657.6 L99.5 663 L97.9 677.4 L95.3 684.5" stroke-width="1.1"/>
<path d="M149.2 596 L116 621.3 L114.5 623 L113 638.500"/>
<path d="M114.5 623 L110.500 624 L107.500 627 L103 634 L102.300 637.500 L102.500 644 L104 647 L112.800 641"/>
<circle cx="105" cy="632.500" r="0.900" fill="#222" stroke="none"/><circle cx="104.500" cy="641" r="0.900" fill="#222" stroke="none"/>
<path d="M152.7 591.5 L156.500 590.500 L158 592 L156.700 599.400 L158.900 603 L166.900 598 L182.100 606 L189.400 603.800 L214 588.500 L219.800 587.500 L222 590 L222.700 600.900 L221.300 611 L219.100 616.100 L187.900 632.800 L176 641 L161.800 650.200" stroke-width="1.1"/>
<path d="M151.800 593 L150 621.500 M154.800 597.500 L153.500 620"/>
<circle cx="154.600" cy="594.300" r="1" /><circle cx="154.600" cy="594.300" r="0.400" fill="#222"/>
<path d="M158.900 603 L160.500 605.500 L166.900 600.900 L180.600 608.900 L190 606.700 L211 594.300"/>
<path d="M160.500 605.500 L160 611 L163.200 612.500 L172 609.600 L183.500 616 L184 628 L187.900 632.800 M184 628 L176 634 L165 642.500 L152 652"/>
<path d="M180.600 608.900 L181 618 L183.500 616 M172 609.600 L172.500 617.500 L166.500 622.500"/>
<path d="M191.300 610.300 L194.800 607 L197.800 607.500 L199 610.200 L201 611 L201.500 617.500 L198.300 622.800 L193.800 624 L190.800 621 L190.500 614 Z" stroke-width="1.1"/>
<path d="M193 612.300 L196 610.300 L199 612.800 L199.300 617 L196.500 620.800 L193.300 620.300 Z"/>
<path d="M203 608.500 C203 606.500 204.500 605 206 605 C207.300 605.200 207.800 606.500 207.700 608 L206.800 615.500 C206.500 617.300 205 618.300 203.800 617.800 C202.800 617.300 202.700 616 202.800 614.500 Z"/>
<path d="M212.600 594.500 L219.300 591.500 L219.800 598.500 L213 601.500 Z" stroke-width="1"/><path d="M214 595.700 L218 593.900 L218.300 597.500 L214.300 599.300 Z"/>
<path d="M212 610 L218.500 606.800 L218.800 612.500 L212.300 615.800 Z" stroke-width="1"/><path d="M213.500 611 L217.300 609 L217.500 612 L213.700 614 Z"/>
<circle cx="221.800" cy="602.300" r="0.900" fill="#222" stroke="none"/>
<circle cx="177.500" cy="612.500" r="0.700" fill="#222" stroke="none"/><circle cx="200.500" cy="620.500" r="0.700" fill="#222" stroke="none"/>
<path d="M121 622 L140 610.800 C141.800 610 143.300 611 143.300 612.800 C143.300 614.500 142.500 615.500 141.300 616.300 L122.500 627.300 C120.800 628 119.300 627 119.200 625.300 C119.200 623.800 120 622.700 121 622 Z" stroke-width="1"/>
<path d="M124.500 622.300 L139.500 613.500 M125.500 624 L140.500 615.200" stroke-width="0.700"/>
<circle cx="122.500" cy="624.500" r="1" fill="#222" stroke="none"/><circle cx="131.800" cy="609.500" r="0.900" fill="#222" stroke="none"/><circle cx="144.500" cy="609" r="0.800" fill="#222" stroke="none"/><circle cx="118" cy="634" r="0.800" fill="#222" stroke="none"/>
<path d="M146 604 L148.500 602.300 M130.500 612.500 L133 611"/>
<path d="M124 633.5 C125.4 632.9 128.7 631.8 132.5 630 C136.3 628.2 142.6 625 147 622.7 C151.4 620.4 156.2 617.4 158.7 616.2 C161.2 615 161 615.4 162 615.5 C163 615.6 163.6 616.2 164.5 616.9 C165.4 617.6 166.9 618.5 167.5 619.5 C168.1 620.5 168.1 621.5 168.1 622.7 C168.1 624 167.9 625.5 167.5 627 C167.1 628.5 167.4 628.7 165.9 631.4 C164.4 634.1 161.1 639.6 158.7 643 C156.3 646.4 153.8 648.6 151.4 651.7 C149 654.9 146.4 658.8 144.2 661.9 C142 665 140.6 668.1 138.4 670.6 C136.2 673.1 133.4 675.3 131 677 C128.6 678.7 125.2 680.3 124 681" stroke-width="0.9"/>
<path d="M136.9 631.4 C137.9 628.7 144.9 627.5 148.5 625.6 C152.1 623.7 156.3 620.6 158.7 619.8 C161.1 618.9 162 619.5 163 620.5 C164 621.5 164.7 623.5 164.5 625.6 C164.3 627.7 163.3 630.2 161.6 632.9 C159.9 635.6 156.7 639.2 154.3 641.6 C151.9 644 148.9 647.4 147 647.4 C145.1 647.4 144.4 644.3 142.7 641.6 C141 638.9 135.9 634.1 136.9 631.4 Z"/>
<path d="M146 633.5 C147.2 632.9 150.9 631.2 153 630 C155.1 628.8 157.2 626.9 158.5 626.5 C159.8 626.1 160.3 626.7 160.5 627.5 C160.7 628.3 160.4 629.9 159.5 631.5 C158.6 633.1 156.6 635.2 155 637 C153.4 638.8 150.8 641.2 150 642" stroke-width="0.7"/>
<circle cx="152.900" cy="635.800" r="0.900" fill="#111" stroke="none"/><circle cx="160.100" cy="633.600" r="0.900" fill="#111" stroke="none"/>
<path d="M147 656 C147.8 655.2 150.2 652.3 152 651 C153.8 649.7 156.5 648.2 158 648 C159.5 647.8 160.8 648.7 161 650 C161.2 651.3 160.3 653.7 159 656 C157.7 658.3 155 661.7 153 664 C151 666.3 148.8 668.6 147 670 C145.2 671.4 143.1 672.7 142 672.5 C140.9 672.3 140.3 670.8 140.5 669 C140.7 667.2 141.9 664.2 143 662 C144.1 659.8 146.3 657 147 656"/>
<path d="M149.5 658.5 C150.2 657.8 152.3 655.3 153.5 654.5 C154.7 653.7 156.1 653 156.5 653.5 C156.9 654 156.8 655.8 156 657.5 C155.2 659.2 153 661.9 151.5 663.5 C150 665.1 147.9 666.9 147 667 C146.1 667.1 145.6 665.4 146 664 C146.4 662.6 148.9 659.4 149.5 658.5"/>
<g transform="rotate(22 128 652.500)">
<ellipse cx="128" cy="652.500" rx="13.500" ry="18.500" stroke-width="0.85"/>
<ellipse cx="128.500" cy="651.500" rx="9" ry="13" stroke-width="1.100"/>
</g>
<path d="M118.800 638.700 C115.500 643 114 648.500 113.700 654.500 C113.500 660 114.800 665 117.300 669.100" stroke-width="1.700"/>
<path d="M120.800 640 C118 644 116.500 649 116.300 654.500 C116.200 659.500 117.300 664 119.500 667.500" stroke-width="0.900"/>
<circle cx="128.300" cy="650.300" r="3.500" stroke-width="1.900" fill="#fff"/><circle cx="128.300" cy="650.300" r="1.500" stroke-width="0.900"/>
<circle cx="123.800" cy="641.800" r="1.200" fill="#111" stroke="none"/><circle cx="136.200" cy="645.400" r="1.200" fill="#111" stroke="none"/><circle cx="121.700" cy="659.700" r="1.200" fill="#111" stroke="none"/><circle cx="136.600" cy="656.300" r="1.200" fill="#111" stroke="none"/>
<path d="M124.500 644.500 L126.300 647.300 M133 643 L130.800 647 M134.500 652.500 L132 651.300 M130.500 658 L129.500 654 M124.500 657 L126.500 653.300 M122.500 650.500 L124.700 650.300" stroke-width="1.700"/>
<path d="M127 639.500 L131 639 L129.500 645.500 Z M134.500 647.500 L137.500 651 L132.500 650.500 Z M126.500 658.500 L131 660 L128.500 654.500 Z" stroke-width="0.800" fill="#fff"/>
<path d="M121 665 C124 667.500 128 668.500 132 667.500 C136 666 139 662.500 140.500 658" stroke-width="1.300"/>
<path d="M106.500 650.500 L104.500 664 L106 667.500 M108.500 651 L106.500 665" stroke-width="1.500"/>
<path d="M104.500 668 C108 672.500 113 675 118 676 C123 677 128 676 132 673.500" stroke-width="1.400"/>
<path d="M103 670.500 C107 675.500 113 678 119 678.500 C124 679 129 677.500 133.500 674.500" />
<path d="M95.3 684.5 C95.1 684.6 94.8 684.8 94 685.2 C93.2 685.6 91.5 686.3 90.8 687.1 C90 687.9 89.7 688.4 89.5 690 C89.3 691.6 89.8 695 89.5 696.8 C89.2 698.6 87.8 699.1 87.6 700.6 C87.4 702.1 87.5 704.7 88.2 705.8 C88.9 706.9 90.8 707.2 91.5 707.1 C92.2 707 92.5 705.5 92.7 705.2" stroke-width="1.1"/>
<circle cx="93.400" cy="689.700" r="2.600" stroke-width="1.100"/><circle cx="93.400" cy="689.700" r="1.100"/>
<path d="M87.600 699 L85.800 700 L86 704.500 L88.200 705.800" stroke-width="1"/>
<path d="M92.7 705.2 C93.8 705.3 97.1 706 99.2 705.8 C101.3 705.6 103.7 703.9 105.6 703.9 C107.5 703.9 109 704.4 110.8 705.8 C112.6 707.2 115.1 709.9 116.6 712.3 C118.1 714.7 118.6 718.4 119.8 720 C121 721.6 122.2 721.9 123.7 721.9 C125.2 721.9 126.3 721.3 128.9 720 C131.5 718.7 136.7 715.9 139.2 714.2 C141.7 712.5 143 711.3 143.7 709.7 C144.3 708.1 143.6 706.3 143.1 704.5 C142.6 702.7 141.3 700.9 140.5 698.7 C139.7 696.6 138.5 694.3 138.5 691.6 C138.5 688.9 139.5 685.4 140.5 682.6 C141.5 679.8 142.8 677.9 144.4 674.8 C146 671.7 149.1 665.8 150 664" stroke-width="1.1"/>
<path d="M96 694.2 C97.2 693.8 100.8 691.8 103.1 691.6 C105.3 691.4 107.6 691.8 109.5 692.9 C111.4 694 113.2 695.7 114.7 698.1 C116.2 700.5 117.2 705 118.5 707.1 C119.8 709.2 120.7 710.6 122.4 711 C124.1 711.4 126.5 710.7 128.9 709.7 C131.3 708.7 135.3 706 136.6 705.2"/>
<path d="M95.3 700.6 C96.6 700.2 100.5 698.5 103 698.5 C105.5 698.5 108 699 110.2 700.6 C112.4 702.2 114.5 706.1 116 708.4 C117.5 710.7 118.2 713.2 119.5 714.5 C120.8 715.8 121.9 716 123.5 716 C125.1 716 128.1 714.8 129 714.5"/>
<path d="M97.3 687.7 C98.4 687.5 101.7 686.5 104 686.5 C106.3 686.5 108.8 686.9 111 688 C113.2 689.1 115.2 690.9 117 693 C118.8 695.1 120.2 698.8 121.5 700.5 C122.8 702.2 123.4 703.2 125 703.5 C126.6 703.8 128.9 703 131 702 C133.1 701 136.4 698.2 137.5 697.5"/>
<path d="M129.500 712.300 L134.700 709.700 L136 714.800 L130.200 717.400 Z M131.500 712.500 L132 716"/><circle cx="125" cy="717.400" r="0.800" fill="#222" stroke="none"/>
<path d="M103.500 663 L101.500 677 L99 684 M112.500 668 L110.500 679 L104 686.500 M118.500 679 L116 690"/>
<path d="M103.500 680 L116 687.800" stroke-width="3.200" stroke="#222"/><path d="M103.500 680 L116 687.800" stroke-width="1.600" stroke="#fff"/>
<ellipse cx="103.300" cy="679.900" rx="0.900" ry="1.600" transform="rotate(-30 103.300 679.900)" fill="#fff"/>
<path d="M134 674.200 L140.500 678.100" stroke-width="2.600" stroke="#111" stroke-dasharray="0.900 0.500"/>
<path d="M122.400 696.100 L129.500 699.400" stroke-width="2.800" stroke="#111" stroke-dasharray="0.900 0.500"/>
<path d="M117.500 688.400 L122.400 691.600" stroke-width="2.800" stroke="#111" stroke-dasharray="0.900 0.500"/>
<path d="M119 679.500 L124.500 676.500 L126.500 680 L121 684 Z" stroke-width="1.200" fill="#555"/><path d="M120.500 680.500 L124.500 678.500" stroke-width="1.500"/>
<path d="M100.800 676.100 L104 678 M107 679.500 L109.800 681.200 M111 673 L113 677" stroke-width="1.600"/>
<path d="M126 684 L126.500 692 M123 690 L129 693.500"/>
<path d="M174.500 650 L190 641.800 L191.500 642.500 L191.300 649.800 L187 652 L186.800 645.500 L176.500 651" stroke-width="1"/>
<path d="M176 647.500 L189 640.500 L190 641.800 M188.500 644 L190.500 643 M188.500 647 L190.500 646"/>
<path d="M163 657 L173.500 652 C176 651.500 177.800 653 177.700 655.500 C177.500 657.500 176.500 658.800 175 659.500 L164.500 664 L152 669 M163 657 L158 654 M164.500 664 L163 657" stroke-width="1.100"/>
<ellipse cx="175.500" cy="655.800" rx="1.800" ry="3" transform="rotate(25 175.500 655.800)" stroke-width="1.300"/>
<path d="M165 659 L174 655 M165.500 661.500 L174.500 657.500" stroke-width="1.300"/>
<circle cx="159" cy="658.500" r="0.900" fill="#222" stroke="none"/>
<path d="M161.800 650.200 L155 656.500 L150 664"/>
</g>
</g>
<path d="M222 602.500 L236.500 611.300" class="dd"/>
<g transform="rotate(-20 239.6 612.8)"><ellipse cx="239.6" cy="612.8" rx="3.12" ry="3.9" fill="#444" stroke="#111" stroke-width="1.1"/><ellipse cx="239.9" cy="612.8" rx="1.365" ry="1.95" fill="#ccc" stroke="#111" stroke-width="0.8"/></g>
<path d="M150 634.400 L237.500 685" class="dd"/>
<g transform="rotate(-20 240 686.6)"><ellipse cx="240" cy="686.6" rx="2.4000000000000004" ry="3.0" fill="#444" stroke="#111" stroke-width="1.1"/><ellipse cx="240.3" cy="686.6" rx="1.0499999999999998" ry="1.5" fill="#ccc" stroke="#111" stroke-width="0.8"/></g>
<path d="M150 663.700 L170.400 674.400" class="dd"/>
<g id="pin"><path d="M170.800 672.600 L174 675 M170.300 675.300 L173 677.500" stroke="#222" stroke-width="1" fill="none"/><ellipse cx="175" cy="676.800" rx="2.300" ry="3.100" transform="rotate(-25 175 676.800)" fill="#fff" stroke="#222" stroke-width="1.100"/><ellipse cx="170.700" cy="674" rx="0.900" ry="1.600" transform="rotate(-25 170.700 674)" fill="#fff" stroke="#222" stroke-width="0.900"/></g>
<g id="handle"><path d="M274.7 670.6 L280 673.8 L280.6 676.4 L278.6 682.9 L279.3 688.7 L276 696.5 L257.9 708.8 L254 708.8 L253.3 706.2 L246.2 707.5 L242.3 704.9 L243 697.8 L245.6 690.7 L250.1 685.5 Z" fill="#fff" stroke="#222" stroke-width="1.100" stroke-linejoin="round"/>
<g fill="none" stroke="#1a1a1a" stroke-width="1.100" stroke-linecap="round" stroke-linejoin="round">
<path d="M246 700 L248 692.500 L252 688 L273 674.500 L277.500 677 L276 683 L276.800 688.500 L274 694.500 L257 706 "/>
<path d="M247 703.500 L251.500 694 L256.500 690.500 L257.500 696.500 L253 703.500 Z" stroke-width="1.300"/>
<path d="M258 689 L263 685.500 L264.500 692.500 L260 696.500 Z M261 686.500 L262.500 695" stroke-width="1.500"/>
<path d="M266.500 683 L272.500 679.500 L273.500 690 L268 694 Z" stroke-width="1.300"/><path d="M269 683.500 L270 691.500" stroke-width="1.600"/>
<path d="M254 697 L266 689.500 M255 701 L268 696.500 L273 693 M249 699 L250.500 704" stroke-width="1.400"/>
<path d="M272 676 L275 679.500 L274.500 683 L277.500 685 M276 690 L279 688" stroke-width="1"/>
<path d="M253.300 706.200 L262 700.500 L264 702.500" stroke-width="0.900"/>
<path d="M251 697 L253.500 692.500 M259 692 L261.500 690 M256 699.500 L259.500 698 M264 696 L266.500 692.500 M271 687 L271.500 683" stroke-width="2.200"/>
</g></g>
<path d="M265 699.700 L280.500 709.500" class="dd"/>
<g id="s1249"><path d="M281.2 710.0 L287.0 713.6" stroke="#111" stroke-width="2.8" fill="none"/><path d="M281.6 711.9 L283.7 709.9 M283.0 712.8 L285.2 710.8 M284.5 713.7 L286.6 711.7" stroke="#fff" stroke-width="0.45" fill="none"/><ellipse cx="288.800" cy="714.700" rx="2.300" ry="3.300" transform="rotate(-25 288.800 714.700)" fill="#fff" stroke="#111" stroke-width="1.200"/></g>
<path d="M112.600 703.900 L80.600 721.600 L90 727.500" class="dd"/>
<g id="b1140"><path d="M90.3 727.9 L98.0 732.1" stroke="#111" stroke-width="3.2" fill="none"/><path d="M91.1 730.2 L93.3 727.7 M93.0 731.2 L95.3 728.8 M95.0 732.3 L97.2 729.8" stroke="#fff" stroke-width="0.45" fill="none"/><ellipse cx="98.300" cy="732.500" rx="1.400" ry="3" transform="rotate(-28 98.300 732.500)" fill="#fff" stroke="#111" stroke-width="1"/><circle cx="100.800" cy="733.700" r="2.800" fill="#fff" stroke="#111" stroke-width="1.300"/><path d="M99.300 732.500 L101 731.800 L102.500 733 L102.300 735 L100.500 735.700 L99.200 734.500 Z" fill="none" stroke="#222" stroke-width="0.700"/></g>
<path d="M137.400 703.900 L158.500 712.600" class="dd"/>
<path d="M163.500 712.800 L161.300 712.500 L160.300 714.800 L160.800 717 L162.800 717.300 M161.300 712.500 L162.500 714" fill="none" stroke="#222" stroke-width="1"/>
<g transform="rotate(22 186.500 728)"><ellipse cx="186.500" cy="728" rx="5.200" ry="6.800" fill="#fff" stroke="#222" stroke-width="1.500"/><ellipse cx="186.500" cy="728" rx="2.400" ry="3.500" fill="#fff" stroke="#222" stroke-width="1.100"/></g>
<g id="crank" fill="#fff" stroke="#1a1a1a" stroke-width="1.100" stroke-linejoin="round">
<path d="M205.500 734.800 L225.600 725.900 L226.500 735.200 L211.100 746 C208.500 748.200 205 748 203.200 745 C201.500 742 202.300 737.500 205.500 734.800 Z" stroke-width="1.200"/>
<path d="M204 736.500 C202 739.500 201.800 743.500 203.800 746" fill="none" stroke-width="2.200"/>
<ellipse cx="209.900" cy="742" rx="3.200" ry="4.500" transform="rotate(25 209.900 742)" stroke-width="1"/>
<path d="M207.100 736.800 L224.800 728.300 M213.500 739.200 L225.600 732.300" stroke-width="0.800" fill="none"/>
<path d="M225.200 725.900 L230.500 725.500 L231.500 728 L229 735.400 L226 735.400 Z" fill="#1a1a1a"/>
<ellipse cx="232.900" cy="732.100" rx="3.700" ry="4.900" transform="rotate(15 232.900 732.100)" stroke-width="1.300"/>
</g>
<path d="M438.700 703.700 L460 719" class="dd"/>
<g id="motor" fill="#fff" stroke="#222" stroke-width="1" stroke-linejoin="round" stroke-linecap="round">
<path d="M489.700 712.600 L501 709.400 L505.800 711.800 L507.400 715.800 L505 721.500 L501 723.900 L488.900 728.700 Z"/>
<path d="M501 709.400 L503.500 714 L502.500 720 L501 723.900 M503.500 714 L507.400 715.800" fill="none" stroke-width="0.800"/>
<path d="M464.700 714.200 L473.500 705.300 L483.200 706.100 L489.700 710.200 L489.500 728.500 L484.800 733.500 L470.300 735.200 L464.700 730.300 L467.100 722.300 L462 723 L459.800 719 Z" stroke-width="1.100"/>
<g transform="rotate(20 478.400 719.500)"><ellipse cx="478.400" cy="719.500" rx="7.300" ry="12.500" stroke-width="1.100"/><ellipse cx="478.400" cy="719.500" rx="5.300" ry="9.500" stroke-width="1"/><ellipse cx="478.400" cy="719.500" rx="2" ry="3.300" fill="#333"/></g>
<path d="M474 712 L476 716 M482.500 711.500 L480.500 716 M483 725 L480.500 722 M476 728 L477 723 M472.500 721 L475.500 719.500" stroke-width="1.500" fill="none"/>
<path d="M466 716 L471.500 709 M468.500 730.500 L473 733 M470 727 L472 731 M476.500 732 L477 734.500 M481 731 L482 733.800" fill="none" stroke-width="1.200"/>
<path d="M466 713.500 C468 709 471 706.500 475 705.500" fill="none" stroke-width="0.800"/>
<path d="M467 727 L469.500 732.500 M471.500 729.500 L473.500 734 M475 731 L476 734.500 M479 731.500 L479.500 734 M483 729.500 L484.500 732.500 M486.500 726 L488 729" fill="none" stroke-width="1.800"/>
</g>
<path d="M484.800 734.400 L499.400 744" class="dd"/>
<g transform="rotate(-20 502.3 745.6)"><ellipse cx="502.3" cy="745.6" rx="2.64" ry="3.3" fill="#444" stroke="#111" stroke-width="1.1"/><ellipse cx="502.6" cy="745.6" rx="1.1549999999999998" ry="1.65" fill="#ccc" stroke="#111" stroke-width="0.8"/></g>
</g>
</svg>
</body>
</html>
